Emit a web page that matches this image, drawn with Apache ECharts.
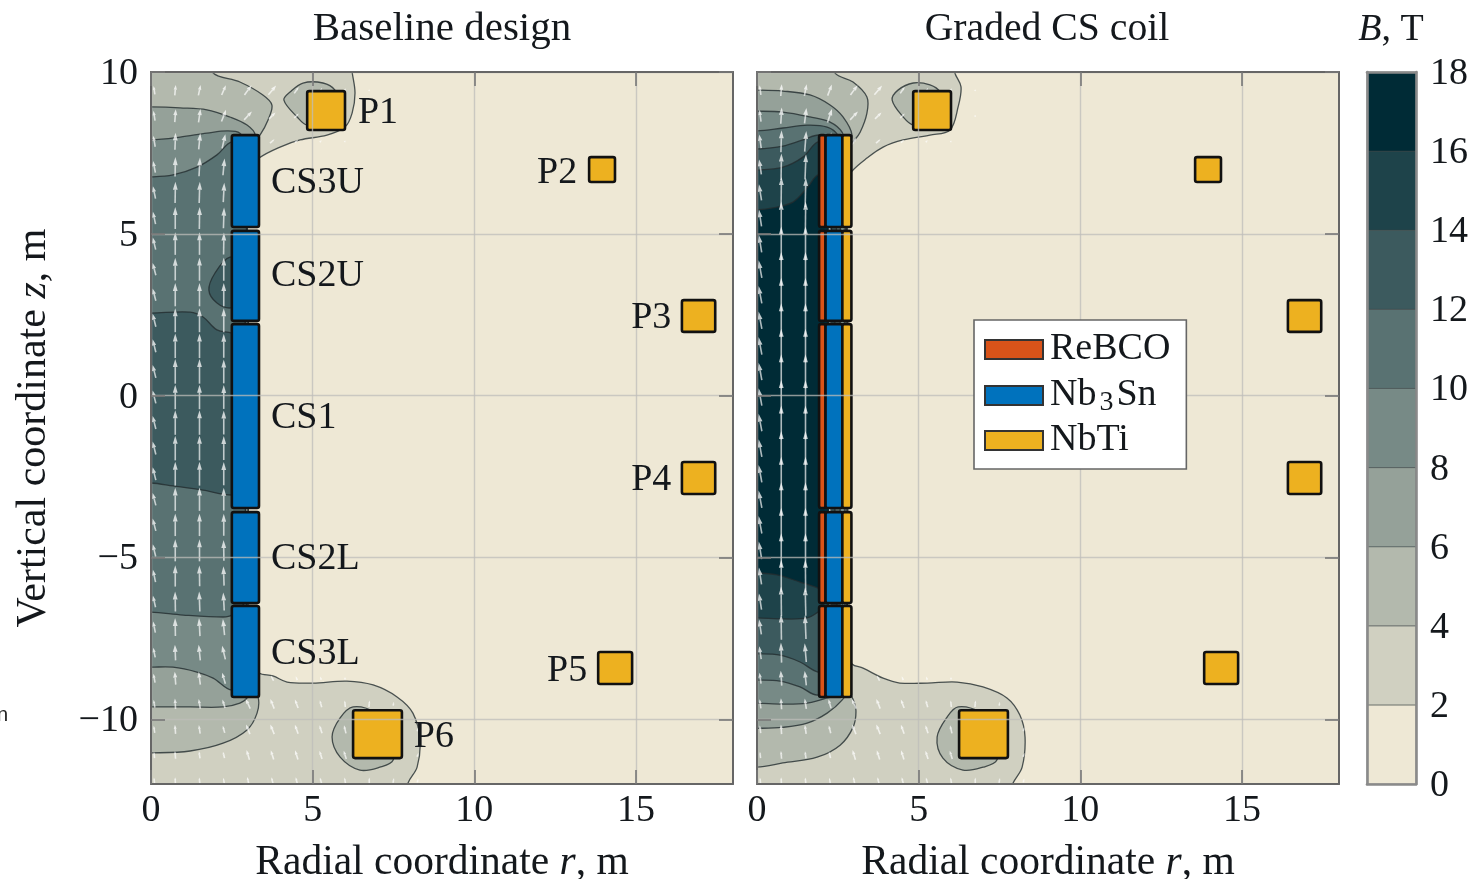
<!DOCTYPE html>
<html><head><meta charset="utf-8">
<style>html,body{margin:0;padding:0;background:#fff}#c{width:1482px;height:879px}</style>
<script src="https://cdn.jsdelivr.net/npm/echarts@6/dist/echarts.min.js"></script>
</head><body><div id="c"></div>
<script>
const radialTicks=[0,5,10,15];
const verticalTicks=[-10,-5,0,5,10];
const fieldTicks=[0,2,4,6,8,10,12,14,16,18];
const levelColors=['#EEE8D5','#D0D0C1','#B3B9AD','#95A199','#778A86','#597272','#3C5A5E','#1E434A','#002B36'];

// contour boundaries [r,z]; each closes outside the plot or beneath a coil
const baselineB2=[[6.1,11],[6.22,10],[6.31,9.35],[6.22,8.73],[6,8.3],[5.44,8.05],[4.61,7.9],[3.99,7.68],[3.34,7.34],[3,6.97],[3,3],[3,-0.14],[3,-4],[3,-8.17],[3.34,-8.57],[3.77,-8.66],[4.21,-8.85],[5.01,-8.88],[6.06,-8.82],[6.87,-8.94],[7.61,-9.31],[8.1,-9.81],[8.32,-10.64],[8.23,-11.48],[7.95,-11.97],[7.7,-13],[-1,-13],[-1,11]];
const baselineB4=[[1.6,11],[1.89,10],[2.75,9.69],[3.46,9.29],[3.74,8.98],[3.62,8.52],[3.37,8.05],[3,7.6],[3,3],[3,-0.14],[3,-4],[3,-8.79],[3.31,-9.31],[3.28,-9.81],[2.97,-10.33],[2.23,-10.74],[1.21,-10.98],[0,-11.04],[-1,-11.04],[-1,11]];
const baselineB4P1=[[4.11,9.13],[4.3,9.38],[4.7,9.66],[5.32,9.66],[5.69,9.44],[5.85,8.98],[5.54,8.45],[4.83,8.36],[4.52,8.61]];
const baselineB4P6=[[6.25,-9.62],[5.85,-9.96],[5.6,-10.55],[5.85,-11.17],[6.46,-11.57],[7.08,-11.48],[7.49,-11.26],[7.55,-10.33],[6.93,-9.78]];
const baselineB6=[[0,8.92],[0.9,8.89],[1.73,8.83],[2.44,8.61],[2.97,8.36],[3.22,8.05],[3,7.74],[3,3],[3,-0.14],[3,-4],[3,-9.1],[2.97,-9.34],[2.75,-9.5],[2.23,-9.62],[1.21,-9.62],[0,-9.62],[-1,-9.62],[-1,8.92]];
const baselineB8=[[0,7.9],[0.9,7.99],[1.73,8.11],[2.35,8.18],[2.75,8.11],[2.91,7.74],[2.91,3],[2.91,-0.14],[2.91,-4],[2.91,-8.79],[2.5,-9.1],[1.92,-8.73],[1.42,-8.54],[0.68,-8.39],[0,-8.39],[-1,-8.39],[-1,7.9]];
const baselineB10=[[0,6.76],[0.68,6.82],[1.42,7.06],[2.04,7.44],[2.5,7.84],[2.91,7.6],[2.91,3],[2.91,-0.14],[2.91,-3],[2.91,-6.32],[2.5,-6.78],[2.23,-6.84],[0.99,-6.78],[0,-6.69],[-1,-6.69],[-1,6.76]];
const baselineB12=[[0,2.55],[1.21,2.58],[1.61,2.43],[2.04,2.03],[2.5,1.93],[2.91,1.72],[2.91,-0.5],[2.91,-2.92],[2.5,-3.07],[1.61,-2.92],[0.68,-2.79],[0,-2.7],[-1,-2.7],[-1,2.55]];
const baselineB12Island=[[2.44,4.28],[1.98,3.79],[1.79,3.26],[2.04,2.86],[2.47,2.71],[2.91,2.95],[2.91,4.04]];

const gradedB2=[[5.9,11],[6.12,9.97],[6.31,9.54],[6.22,8.92],[5.97,8.21],[5.35,8.05],[4.52,7.9],[3.9,7.68],[3.4,7.34],[2.94,6.94],[2.81,6.66],[2.81,3],[2.81,-0.14],[2.81,-4],[2.81,-7.94],[2.94,-8.29],[3.28,-8.42],[3.9,-8.73],[4.42,-8.88],[5.26,-8.88],[6.19,-8.85],[6.99,-9],[7.73,-9.34],[8.13,-9.87],[8.29,-10.55],[8.2,-11.48],[7.92,-11.97],[7.5,-13],[-1,-13],[-1,11]];
const gradedB4=[[2,11],[2.41,9.97],[2.97,9.69],[3.4,9.23],[3.4,8.73],[3.19,8.14],[2.97,7.84],[2.78,7.6],[2.78,3],[2.78,-0.14],[2.78,-4],[2.78,-9.1],[2.94,-9.31],[3.06,-9.72],[2.97,-10.25],[2.57,-10.8],[1.86,-11.17],[0.8,-11.35],[0,-11.48],[-1,-11.48],[-1,11]];
const gradedB4P1=[[4.18,9.13],[4.36,9.44],[4.83,9.66],[5.35,9.6],[5.66,9.38],[5.81,8.83],[5.51,8.36],[4.83,8.36],[4.52,8.61]];
const gradedB4P6=[[6.22,-9.62],[5.88,-9.93],[5.57,-10.55],[5.75,-11.2],[6.37,-11.57],[6.99,-11.48],[7.42,-11.26],[7.52,-10.33],[6.9,-9.78]];
const gradedB6=[[0,9.44],[0.8,9.41],[1.64,9.29],[2.26,8.98],[2.66,8.61],[2.94,8.05],[2.78,7.6],[2.78,3],[2.78,-0.14],[2.78,-4],[2.78,-9.1],[2.63,-9.41],[2.17,-9.81],[1.55,-10.12],[0.8,-10.25],[0,-10.28],[-1,-10.28],[-1,9.44]];
const gradedB8=[[0,8.79],[0.8,8.76],[1.64,8.61],[2.26,8.45],[2.63,8.14],[2.72,7.74],[2.72,3],[2.72,-0.14],[2.72,-4],[2.72,-9.1],[2.17,-9.34],[1.55,-9.5],[0.8,-9.53],[0,-9.5],[-1,-9.5],[-1,8.79]];
const gradedB10=[[0,8.18],[0.8,8.27],[1.55,8.36],[2.17,8.3],[2.5,8.05],[2.57,7.6],[2.57,3],[2.57,-0.14],[2.57,-4],[2.57,-8.79],[1.89,-9.25],[1.33,-9],[0.71,-8.82],[0,-8.79],[-1,-8.79],[-1,8.18]];
const gradedB12=[[0,7.62],[0.8,7.71],[1.42,7.9],[1.95,8.05],[2.41,7.74],[2.41,3],[2.41,-0.14],[2.41,-4],[2.41,-8.48],[1.89,-8.54],[1.33,-8.23],[0.71,-8.02],[0,-7.98],[-1,-7.98],[-1,7.62]];
const gradedB14=[[0,6.97],[0.8,7.06],[1.42,7.37],[1.89,7.84],[2.26,7.6],[2.26,3],[2.26,-0.14],[2.26,-3],[2.26,-6.47],[1.89,-6.69],[1.55,-6.87],[0.8,-6.9],[0,-6.87],[-1,-6.87],[-1,6.97]];
const gradedB16=[[0,5.74],[0.49,5.8],[1.11,5.98],[1.55,6.42],[1.89,6.82],[2.26,6.66],[2.26,3],[2.26,-0.14],[2.26,-3],[2.26,-6.16],[1.89,-5.95],[1.33,-5.76],[0.62,-5.54],[0,-5.48],[-1,-5.48],[-1,5.74]];

// coils [rMin,zMin,rMax,zMax]
const poloidalCoils=[[4.83,8.21,6,9.41],[13.55,6.6,14.35,7.37],[16.42,1.97,17.45,2.95],[16.42,-3.04,17.45,-2.05],[13.83,-8.91,14.88,-7.92],[6.25,-11.2,7.76,-9.72]];
const baselineCentralCoils=[[2.5,5.21,3.34,8.05],[2.5,2.31,3.34,5.09],[2.5,-3.47,3.34,2.21],[2.5,-6.41,3.34,-3.6],[2.5,-9.31,3.34,-6.5]];
const gradedReBCO=[[1.92,5.21,2.12,8.05],[1.92,2.31,2.12,5.09],[1.92,-3.47,2.12,2.21],[1.92,-6.41,2.12,-3.6],[1.92,-9.31,2.12,-6.5]];
const gradedNb3Sn=[[2.12,5.21,2.64,8.05],[2.12,2.31,2.64,5.09],[2.12,-3.47,2.64,2.21],[2.12,-6.41,2.64,-3.6],[2.12,-9.31,2.64,-6.5]];
const gradedNbTi=[[2.64,5.21,2.92,8.05],[2.64,2.31,2.92,5.09],[2.64,-3.47,2.92,2.21],[2.64,-6.41,2.92,-3.6],[2.64,-9.31,2.92,-6.5]];

// coil names [label,r,z]
const baselineCoilLabels=[['CS3U',3.71,6.66],['CS2U',3.71,3.79],['CS1',3.71,-0.6],['CS2L',3.71,-4.96],['CS3L',3.71,-7.89],['P1',6.4,8.83],['P2',11.94,6.97],['P3',14.85,2.49],['P4',14.85,-2.52],['P5',12.25,-8.42],['P6',8.13,-10.46]];

// field arrows
const boreRadii=[0.1,0.75,1.5,2.25];
const boreHeights=[9.44,8.65,7.86,7.07,6.28,5.49,4.7,3.91,3.12,2.33,1.54,0.75,-0.04,-0.83,-1.62,-2.41,-3.2,-3.99,-4.78,-5.57,-6.36,-7.15,-7.94,-8.73,-9.52,-10.31,-11.1,-11.89];
const baselineBoreDz=[[.26,.32,.32,.3],[.3,.4,.42,.36],[.34,.52,.5,.44],[.36,.6,.58,.52],[.38,.66,.66,.6],[.38,.68,.68,.64],[.38,.7,.7,.68],[.38,.7,.72,.72],[.38,.72,.72,.72],[.4,.74,.74,.74],[.4,.76,.76,.74],[.4,.76,.76,.74],[.4,.76,.76,.74],[.4,.76,.76,.74],[.4,.76,.76,.74],[.4,.74,.74,.72],[.38,.72,.72,.7],[.38,.7,.7,.68],[.38,.68,.68,.64],[.38,.66,.64,.6],[.36,.62,.62,.56],[.34,.56,.56,.5],[.3,.48,.48,.42],[.28,.4,.4,.34],[.24,.32,.3,.26],[.22,.28,.26,.22],[.2,.24,.22,.2],[.18,.2,.18,.16]];
const gradedBoreDz=[[.3,.36,.36,.34],[.36,.5,.48,.42],[.42,.68,.64,.55],[.46,.82,.78,.7],[.5,.95,.9,.85],[.52,1,1,.95],[.54,1.05,1.05,1],[.54,1.05,1.05,1],[.54,1.05,1.05,1],[.54,1.05,1.05,1],[.54,1.05,1.05,1],[.54,1.05,1.05,1],[.54,1.05,1.05,1],[.54,1.05,1.05,1],[.54,1.05,1.05,1],[.54,1.05,1.05,1],[.54,1.05,1.05,1],[.54,1.05,1.05,1],[.54,1.05,1.05,1],[.52,1,1,.95],[.5,.92,.88,.8],[.46,.78,.74,.66],[.4,.62,.58,.5],[.34,.46,.44,.38],[.28,.34,.32,.28],[.24,.3,.28,.24],[.2,.24,.22,.2],[.18,.2,.18,.16]];
const boreDr=[[-.04,.03,.07,.13],[-.05,.03,.06,.14],[-.06,.02,.05,.1],[-.07,.01,.03,.05],[-.08,.01,.02,.03],[-.08,0,.01,.02],[-.09,0,0,.01],[-.1,0,0,0],[-.1,0,0,0],[-.1,0,0,0],[-.1,0,0,0],[-.1,0,0,0],[-.1,0,0,0],[-.1,0,0,0],[-.1,0,0,0],[-.1,0,0,0],[-.1,0,0,0],[-.1,0,0,0],[-.09,0,0,-.01],[-.08,0,-.01,-.02],[-.08,-.01,-.02,-.03],[-.07,-.01,-.03,-.05],[-.06,-.02,-.05,-.1],[-.05,-.03,-.05,-.1],[-.04,-.02,-.05,-.08],[-.03,-.02,-.04,-.06],[-.02,-.02,-.03,-.05],[-.02,-.01,-.02,-.03]];
const outerRadii=[3,3.75,4.5,5.25,6,6.75,7.5,8.25];
const outerHeights=[9.44,8.65,7.86,-8.73,-9.52,-10.31,-11.1,-11.89];
const outerDz=[[.3,.28,.2,.14,.12,.06,0,0],[.26,.2,.14,.1,.08,.06,0,0],[.22,.12,.08,.06,.05,0,0,0],[0,.16,.12,.1,.08,0,0,0],[.3,.3,.26,.22,.2,.2,.12,0],[.3,.3,.28,.25,.25,0,0,.12],[.3,.28,.28,.25,.26,0,.18,.12],[.22,.2,.2,.18,.18,.18,.15,.12]];
const outerDr=[[.22,.24,.14,.08,.05,.02,0,0],[.24,.2,.14,.1,.05,.02,0,0],[.14,.14,.1,.06,.03,0,0,0],[0,-.08,-.05,-.03,0,0,0,0],[-.14,-.12,-.1,-.06,-.02,.02,.02,0],[-.12,-.12,-.1,-.08,-.06,0,0,.03],[-.09,-.09,-.09,-.08,-.08,0,.06,.04],[-.05,-.05,-.05,-.05,-.03,0,.03,.03]];

const SERIF='"Liberation Serif",serif', INK='#14181c';
const COL={ReBCO:'#D95319',Nb3Sn:'#0072BD',NbTi:'#EDB120'};

function quiver(hs,rs,dz,dr,out){hs.forEach((z,i)=>rs.forEach((r,j)=>{if(dz[i][j]||dr[i][j])out.push([r,z,dr[i][j],dz[i][j]]);}));return out;}
const baselineArrows=quiver(outerHeights,outerRadii,outerDz,outerDr,quiver(boreHeights,boreRadii,baselineBoreDz,boreDr,[]));
const gradedArrows=quiver(outerHeights,outerRadii,outerDz,outerDr,quiver(boreHeights,boreRadii,gradedBoreDz,boreDr,[]));

function contourSeries(idx,layers){
  return {type:'custom',xAxisIndex:idx,yAxisIndex:idx,z:1,clip:true,silent:true,
    data:layers.map((l,i)=>[i]),
    renderItem(p,api){
      const l=layers[api.value(0)];
      return {type:'polygon',shape:{points:l[1].map(q=>api.coord(q)),smooth:0.35},
        style:{fill:levelColors[l[0]],stroke:'rgba(35,45,48,0.8)',lineWidth:1.3}};
    }};
}
function arrowSeries(idx,arrows){
  return {type:'custom',xAxisIndex:idx,yAxisIndex:idx,z:2,clip:true,silent:true,data:arrows,
    renderItem(p,api){
      const r=api.value(0),z=api.value(1),dr=api.value(2),dz=api.value(3);
      const a=api.coord([r-dr/2,z-dz/2]),b=api.coord([r+dr/2,z+dz/2]);
      const L=Math.hypot(b[0]-a[0],b[1]-a[1])||1,ux=(b[0]-a[0])/L,uy=(b[1]-a[1])/L;
      const hl=Math.min(8,L*0.45),hw=Math.min(2.4,L*0.16);
      const bx=b[0]-ux*hl,by=b[1]-uy*hl;
      return {type:'group',children:[
        {type:'line',shape:{x1:a[0],y1:a[1],x2:bx,y2:by},style:{stroke:'rgba(255,255,255,0.68)',lineWidth:1.6}},
        {type:'polygon',shape:{points:[b,[bx-uy*hw,by+ux*hw],[bx+uy*hw,by-ux*hw]]},style:{fill:'rgba(255,255,255,0.75)'}}
      ]};
    }};
}
function coilSeries(idx,name,coils){
  return {type:'custom',name,xAxisIndex:idx,yAxisIndex:idx,z:4,silent:true,data:coils,
    itemStyle:{color:COL[name],borderColor:'#333',borderWidth:1.5},
    renderItem(p,api){
      const a=api.coord([api.value(0),api.value(3)]),b=api.coord([api.value(2),api.value(1)]);
      return {type:'rect',shape:{x:a[0],y:a[1],width:b[0]-a[0],height:b[1]-a[1],r:2},
        style:{fill:COL[name],stroke:'#111',lineWidth:2.6}};
    }};
}
function labelSeries(idx,labels){
  return {type:'custom',xAxisIndex:idx,yAxisIndex:idx,z:6,silent:true,data:labels.map((l,i)=>[l[1],l[2],i]),
    renderItem(p,api){
      const a=api.coord([api.value(0),api.value(1)]);
      return {type:'text',style:{text:labels[api.value(2)][0],x:a[0],y:a[1]+3,fill:INK,font:'38px '+SERIF,verticalAlign:'middle',align:'left'}};
    }};
}
const levelBands=levelColors.map((c,i)=>[fieldTicks[i],fieldTicks[i+1]]);
const bandSeries={type:'custom',xAxisIndex:2,yAxisIndex:2,z:1,silent:true,data:levelBands,
  renderItem(p,api){
    const a=api.coord([0,api.value(1)]),b=api.coord([1,api.value(0)]);
    return {type:'rect',shape:{x:a[0],y:a[1],width:b[0]-a[0],height:b[1]-a[1]},
      style:{fill:levelColors[p.dataIndex],stroke:'rgba(60,70,70,0.55)',lineWidth:1}};
  }};

const frame={show:true,onZero:false,lineStyle:{color:'#666',width:2}};
const tick={show:true,inside:true,length:14,lineStyle:{color:'#777',width:1.6}};
const grid0={show:true,lineStyle:{color:'rgba(190,190,185,0.75)',width:1.4}};
const tickFont={color:INK,fontFamily:SERIF,fontSize:38};
const nameFont={color:INK,fontFamily:SERIF,fontSize:41.5,rich:{i:{fontFamily:SERIF,fontStyle:'italic',fontSize:41.5,color:INK}}};
const yNameFont={color:INK,fontFamily:SERIF,fontSize:42,rich:{i:{fontFamily:SERIF,fontStyle:'italic',fontSize:42,color:INK}}};

function xAxes(g){
  const base={type:'value',gridIndex:g,min:0,max:18,z:5,axisLine:frame,splitLine:{show:false}};
  return [
   {...base,position:'bottom',axisTick:{...tick,customValues:radialTicks},splitLine:grid0,
    axisLabel:{...tickFont,margin:8,customValues:radialTicks},
    name:'Radial coordinate {i|r}, m',nameLocation:'middle',nameGap:58,nameTextStyle:nameFont},
   {...base,position:'top',axisTick:{...tick,customValues:radialTicks},axisLabel:{show:false}}
  ];
}
function yAxes(g,labels){
  const base={type:'value',gridIndex:g,min:-12,max:10,z:5,axisLine:frame,splitLine:{show:false}};
  return [
   {...base,position:'left',axisTick:{...tick,customValues:verticalTicks},splitLine:grid0,
    axisLabel:labels?{...tickFont,margin:13,verticalAlign:'top',lineHeight:4,customValues:verticalTicks,formatter:v=>String(v).replace('-','\u2212')}:{show:false},
    ...(labels?{name:'Vertical coordinate {i|z}, m',nameLocation:'middle',nameGap:96,nameTextStyle:yNameFont}:{})},
   {...base,position:'right',axisTick:{...tick,customValues:verticalTicks},axisLabel:{show:false}}
  ];
}
const bx=xAxes(0),gx=xAxes(1),by=yAxes(0,true),gy=yAxes(1,false);
const cbLine={show:true,onZero:false,lineStyle:{color:'#8a8a8a',width:2.6}};
const titleFont={color:INK,fontFamily:SERIF,fontSize:41,fontWeight:'normal'};
const option={
  animation:false,backgroundColor:'#fff',
  textStyle:{fontFamily:SERIF},
  title:[
    {text:'Baseline design',left:437,top:4,textAlign:'center',textStyle:titleFont},
    {text:'Graded CS coil',left:1042,top:5,textAlign:'center',textStyle:{...titleFont,fontSize:39.7}},
    {text:'{i|B}, T',left:1386,top:6,textAlign:'center',textStyle:{color:INK,fontFamily:SERIF,fontSize:38,fontWeight:'normal',rich:{i:{fontFamily:SERIF,fontStyle:'italic',fontSize:38,color:INK}}}}
  ],
  grid:[
    {left:151,top:72,width:582,height:712,show:true,backgroundColor:levelColors[0],borderWidth:0,outerBoundsMode:'none'},
    {left:757,top:72,width:582,height:712,show:true,backgroundColor:levelColors[0],borderWidth:0,outerBoundsMode:'none'},
    {left:1367,top:72,width:49,height:712,show:false,outerBoundsMode:'none'}
  ],
  xAxis:[bx[0],gx[0],
    {type:'value',gridIndex:2,min:0,max:1,position:'bottom',z:5,axisLine:cbLine,axisTick:{show:false},axisLabel:{show:false},splitLine:{show:false}},
    bx[1],gx[1],
    {type:'value',gridIndex:2,min:0,max:1,position:'top',z:5,axisLine:cbLine,axisTick:{show:false},axisLabel:{show:false},splitLine:{show:false}}],
  yAxis:[by[0],gy[0],
    {type:'value',gridIndex:2,min:0,max:18,interval:2,position:'right',z:5,axisLine:cbLine,axisTick:{show:false},splitLine:{show:false},axisLabel:{...tickFont,margin:14,verticalAlign:'top',lineHeight:4}},
    by[1],gy[1],
    {type:'value',gridIndex:2,min:0,max:18,interval:2,position:'left',z:5,axisLine:cbLine,axisTick:{show:false},splitLine:{show:false},axisLabel:{show:false}}],
  legend:{show:true,orient:'vertical',left:974,top:320,z:20,selectedMode:false,
    backgroundColor:'#fff',borderColor:'#666',borderWidth:1.6,padding:[4,16,7,10],
    itemWidth:58,itemHeight:19,itemGap:-2,
    data:[{name:'ReBCO',icon:'rect'},{name:'Nb3Sn',icon:'rect'},{name:'NbTi',icon:'rect'}],
    formatter:n=>n==='Nb3Sn'?'{g|}Nb{s|3}Sn':'{g|}'+n+'{h|}',
    textStyle:{color:INK,fontFamily:SERIF,fontSize:38,lineHeight:43,rich:{g:{width:2,lineHeight:43},h:{width:0,fontSize:27,verticalAlign:'bottom',lineHeight:20,padding:[20,0,0,0]},s:{fontFamily:SERIF,fontSize:28,color:INK,verticalAlign:'bottom',lineHeight:20,padding:[20,3,0,3]}}}},
  graphic:[{type:'text',left:-3,top:705,silent:true,style:{text:'n',font:'20px "Liberation Sans",sans-serif',fill:'#222'}}],
  series:[
    contourSeries(0,[[1,baselineB2],[2,baselineB4],[2,baselineB4P1],[2,baselineB4P6],[3,baselineB6],[4,baselineB8],[5,baselineB10],[6,baselineB12],[6,baselineB12Island]]),
    arrowSeries(0,baselineArrows),
    coilSeries(0,'Nb3Sn',baselineCentralCoils),
    coilSeries(0,'NbTi',poloidalCoils),
    labelSeries(0,baselineCoilLabels),
    contourSeries(1,[[1,gradedB2],[2,gradedB4],[2,gradedB4P1],[2,gradedB4P6],[3,gradedB6],[4,gradedB8],[5,gradedB10],[6,gradedB12],[7,gradedB14],[8,gradedB16]]),
    arrowSeries(1,gradedArrows),
    coilSeries(1,'ReBCO',gradedReBCO),
    coilSeries(1,'Nb3Sn',gradedNb3Sn),
    coilSeries(1,'NbTi',gradedNbTi.concat(poloidalCoils)),
    bandSeries
  ]
};
echarts.init(document.getElementById('c'),null,{renderer:'canvas'}).setOption(option);
</script></body></html>
